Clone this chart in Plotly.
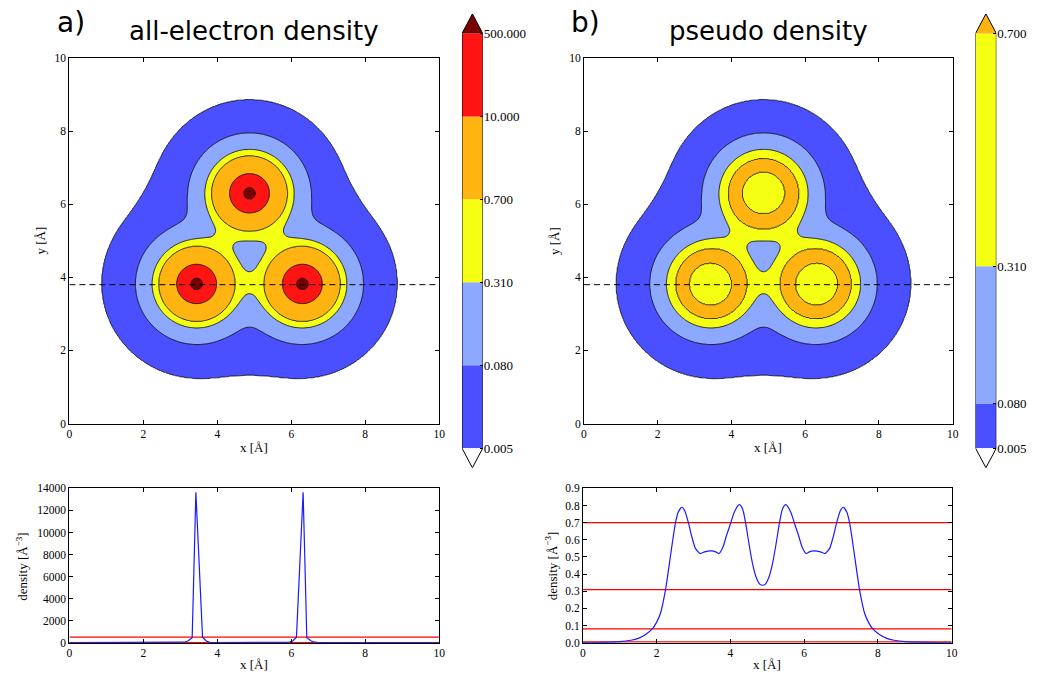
import numpy as np
import plotly.graph_objects as go

W, H = 1040, 686

# ---------------- data ----------------
atom_x = [3.44, 6.30, 4.87]          # atom positions [Å]
atom_y = [3.82, 3.82, 6.30]
cut_y = 3.8                          # dashed cut line

levels_ae = [0.005, 0.08, 0.31, 0.7, 10.0, 500.0]
labels_ae = ["0.005", "0.080", "0.310", "0.700", "10.000", "500.000"]
levels_ps = [0.005, 0.08, 0.31, 0.7]
labels_ps = ["0.005", "0.080", "0.310", "0.700"]

band_colors_ae = ["#ffffff", "#4a50ff", "#8ca8ff", "#f5ff14", "#ffb412", "#ff1414", "#780000"]
band_colors_ps = ["#ffffff", "#4a50ff", "#8ca8ff", "#f5ff14", "#ffb412"]

r_ps = [0.0, 0.1, 0.25, 0.4, 0.5, 0.57, 0.66, 0.77, 0.86, 0.96, 1.05, 1.2, 1.3, 1.43, 1.55, 1.65,
        1.8, 2.0, 2.3, 2.55, 3.0, 3.5, 4.5, 6.0, 8.0, 12.0]
f_ps = [0.525, 0.52, 0.505, 0.56, 0.645, 0.70, 0.755, 0.785, 0.765, 0.70, 0.56, 0.31, 0.232, 0.165,
        0.113, 0.08, 0.048, 0.024, 0.0102, 0.005, 0.0019, 0.0006, 0.0001, 1e-5, 1e-6, 1e-8]
r_ae = [0.0, 0.05, 0.1, 0.16, 0.25, 0.35, 0.45, 0.54, 0.65, 0.8, 0.92, 1.03, 1.12, 1.2, 1.3, 1.43,
        1.55, 1.65, 1.8, 2.0, 2.3, 2.55, 3.0, 3.5, 4.5, 6.0, 8.0, 12.0]
f_ae = [13700, 5000, 1500, 500, 150, 50, 20, 10, 5, 2, 1.1, 0.7, 0.45, 0.31, 0.232, 0.165,
        0.113, 0.08, 0.048, 0.024, 0.0102, 0.005, 0.0019, 0.0006, 0.0001, 1e-5, 1e-6, 1e-8]

# density along the cut line
x_ps_cut = [0.0, 0.5, 1.0, 1.3, 1.5, 1.7, 1.88, 2.0, 2.1, 2.24, 2.35, 2.45, 2.51, 2.58, 2.68, 2.76,
            2.86, 2.95, 3.05, 3.18, 3.3, 3.48, 3.6, 3.69, 3.8, 3.9, 4.01, 4.1, 4.24, 4.33, 4.41,
            4.5, 4.6, 4.7, 4.8, 4.87, 4.94, 5.04, 5.14, 5.24, 5.33, 5.41, 5.5, 5.64, 5.73, 5.84,
            5.94, 6.05, 6.14, 6.26, 6.44, 6.56, 6.69, 6.79, 6.88, 6.98, 7.06, 7.16, 7.23, 7.29,
            7.39, 7.5, 7.64, 7.74, 7.86, 8.04, 8.24, 8.44, 8.74, 9.24, 10.0]
d_ps_cut = [0.0003, 0.0015, 0.006, 0.014, 0.025, 0.048, 0.08, 0.12, 0.17, 0.31, 0.47, 0.62, 0.70,
            0.76, 0.79, 0.77, 0.70, 0.62, 0.55, 0.52, 0.53, 0.535, 0.53, 0.52, 0.56, 0.63, 0.70,
            0.76, 0.805, 0.78, 0.70, 0.58, 0.46, 0.38, 0.34, 0.335, 0.34, 0.38, 0.46, 0.58, 0.70,
            0.78, 0.805, 0.76, 0.70, 0.63, 0.56, 0.52, 0.53, 0.535, 0.53, 0.52, 0.55, 0.62, 0.70,
            0.77, 0.79, 0.76, 0.70, 0.62, 0.47, 0.31, 0.17, 0.12, 0.08, 0.048, 0.025, 0.014,
            0.006, 0.0015, 0.0003]
x_ae_cut = [0.0, 2.5, 2.9, 3.0, 3.1, 3.2, 3.32, 3.42, 3.6, 3.7, 3.8, 3.9, 4.87, 5.84, 5.94, 6.04,
            6.14, 6.32, 6.42, 6.54, 6.64, 6.74, 6.84, 7.2, 10.0]
d_ae_cut = [0.0003, 0.7, 3, 8, 40, 150, 450, 13650, 500, 150, 30, 6, 0.34, 6, 30, 150,
            500, 13650, 450, 150, 40, 8, 3, 0.7, 0.0003]

xy_ticks = [0, 2, 4, 6, 8, 10]
ae_ticks = [0, 2000, 4000, 6000, 8000, 10000, 12000, 14000]
ps_ticks = [0.0, 0.1, 0.2, 0.3, 0.4, 0.5, 0.6, 0.7, 0.8, 0.9]

# ---------------- field ----------------
grid = np.linspace(0, 10, 401)
GX, GY = np.meshgrid(grid, grid)


def pchip(xk, yk, x):
    """monotone cubic Hermite interpolation (smooth radial profile)"""
    xk = np.asarray(xk, float)
    yk = np.asarray(yk, float)
    h = np.diff(xk)
    d = np.diff(yk) / h
    m = np.zeros_like(yk)
    w1 = 2 * h[1:] + h[:-1]
    w2 = h[1:] + 2 * h[:-1]
    same = d[:-1] * d[1:] > 0
    with np.errstate(divide="ignore", invalid="ignore"):
        m[1:-1] = np.where(same, (w1 + w2) / (w1 / d[:-1] + w2 / d[1:]), 0.0)
    m[0] = 0.0
    m[-1] = d[-1]
    x = np.clip(x, xk[0], xk[-1])
    i = np.clip(np.searchsorted(xk, x) - 1, 0, len(xk) - 2)
    t = (x - xk[i]) / h[i]
    h00 = 2 * t**3 - 3 * t**2 + 1
    h10 = t**3 - 2 * t**2 + t
    h01 = -2 * t**3 + 3 * t**2
    h11 = t**3 - t**2
    return h00 * yk[i] + h10 * h[i] * m[i] + h01 * yk[i + 1] + h11 * h[i] * m[i + 1]


def field(r_tab, f_tab):
    Z = np.zeros_like(GX)
    for ax_, ay_ in zip(atom_x, atom_y):
        R = np.hypot(GX - ax_, GY - ay_)
        Z += np.exp(pchip(r_tab, np.log(f_tab), R))
    return Z


def to_index(Z, levels):
    kl = np.log(np.r_[1e-12, levels, 1e12])
    ki = np.arange(-1, len(levels) + 1, dtype=float)
    return np.round(np.interp(np.log(Z), kl, ki), 4)


Z_ae = to_index(field(r_ae, f_ae), levels_ae)
Z_ps = to_index(field(r_ps, f_ps), levels_ps)


def px_x(p):
    return p / W


def px_y(p):
    return 1 - p / H


SERIF = "Liberation Serif"
SANS = "DejaVu Sans"

fig = go.Figure()

for Z, lv, cols, xa, ya in [(Z_ae, levels_ae, band_colors_ae, "x", "y"),
                            (Z_ps, levels_ps, band_colors_ps, "x2", "y2")]:
    n = len(lv)
    fig.add_trace(go.Contour(
        x=grid, y=grid, z=Z, autocontour=False,
        contours=dict(start=0, end=n - 1, size=1, coloring="fill"),
        colorscale=[[i / n, c] for i, c in enumerate(cols)],
        line=dict(color="#111111", width=0.9, smoothing=1),
        showscale=False, hoverinfo="skip", xaxis=xa, yaxis=ya))
    fig.add_trace(go.Scatter(x=[0, 10], y=[cut_y, cut_y], mode="lines",
                             line=dict(color="black", width=1, dash="6px,4px"),
                             hoverinfo="skip", xaxis=xa, yaxis=ya, showlegend=False))

# lower panels
for xs, ds, lv, xa, ya in [(x_ae_cut, d_ae_cut, levels_ae, "x3", "y3"),
                           (x_ps_cut, d_ps_cut, levels_ps, "x4", "y4")]:
    for v in lv:
        fig.add_trace(go.Scatter(x=[0, 10], y=[v, v], mode="lines",
                                 line=dict(color="#ff0000", width=1.2), hoverinfo="skip",
                                 xaxis=xa, yaxis=ya, showlegend=False))
    fig.add_trace(go.Scatter(x=xs, y=ds, mode="lines",
                             line=dict(color="#1a1aff", width=1.2,
                                       shape="spline" if xa == "x4" else "linear", smoothing=0.6),
                             hoverinfo="skip", xaxis=xa, yaxis=ya, showlegend=False))

axis_common = dict(showline=True, linecolor="black", linewidth=1, mirror="allticks",
                   ticks="inside", ticklen=4, tickcolor="black", showgrid=False,
                   zeroline=False, tickfont=dict(family=SERIF, size=11.5, color="black"))

top_y = [px_y(425), px_y(53)]
bot_y = [px_y(648), px_y(491)]
left_x = [px_x(67), px_x(440)]
right_x = [px_x(586), px_x(958)]

layout = dict(
    width=W, height=H, margin=dict(l=0, r=0, t=0, b=0),
    paper_bgcolor="white", plot_bgcolor="white", showlegend=False,
    xaxis=dict(domain=left_x, range=[0, 10], tickvals=xy_ticks, anchor="y", **axis_common),
    yaxis=dict(domain=top_y, range=[0, 10], tickvals=xy_ticks, anchor="x", **axis_common),
    xaxis2=dict(domain=right_x, range=[0, 10], tickvals=xy_ticks, anchor="y2", **axis_common),
    yaxis2=dict(domain=top_y, range=[0, 10], tickvals=xy_ticks, anchor="x2", **axis_common),
    xaxis3=dict(domain=left_x, range=[0, 10], tickvals=xy_ticks, anchor="y3", **axis_common),
    yaxis3=dict(domain=bot_y, range=[0, 14000], tickvals=ae_ticks, tickformat="d", anchor="x3",
                **axis_common),
    xaxis4=dict(domain=[px_x(585), px_x(957)], range=[0, 10], tickvals=xy_ticks, anchor="y4",
                **axis_common),
    yaxis4=dict(domain=bot_y, range=[0, 0.9], tickvals=ps_ticks, tickformat=".1f", anchor="x4",
                **axis_common),
)

# colorbar axes
cb_common_y = dict(side="right", showline=False, showgrid=False, zeroline=False,
                   ticks="inside", ticklen=3, tickcolor="black",
                   tickfont=dict(family=SERIF, size=13, color="black"))
tri_ae = 0.237
layout["xaxis5"] = dict(domain=[px_x(463), px_x(484)], range=[0, 1], visible=False, anchor="y5")
layout["yaxis5"] = dict(domain=[px_y(470), px_y(8)], range=[-tri_ae, len(levels_ae) - 1 + tri_ae],
                        tickvals=list(range(len(levels_ae))), ticktext=labels_ae, anchor="x5",
                        **cb_common_y)
tri_ps = 0.0329
layout["xaxis6"] = dict(domain=[px_x(981), px_x(1002)], range=[0, 1], visible=False, anchor="y6")
layout["yaxis6"] = dict(domain=[px_y(470), px_y(8)],
                        range=[levels_ps[0] - tri_ps, levels_ps[-1] + tri_ps],
                        tickvals=levels_ps, ticktext=labels_ps, anchor="x6", **cb_common_y)
fig.update_layout(**layout)

# invisible traces so colorbar axes render
fig.add_trace(go.Scatter(x=[0.5], y=[0], mode="markers", marker=dict(opacity=0),
                         xaxis="x5", yaxis="y5", hoverinfo="skip"))
fig.add_trace(go.Scatter(x=[0.5], y=[levels_ps[0]], mode="markers", marker=dict(opacity=0),
                         xaxis="x6", yaxis="y6", hoverinfo="skip"))

shapes = []


def colorbar_shapes(ypos, cols, tri, xr, yr):
    n = len(ypos)
    for i in range(n - 1):
        shapes.append(dict(type="rect", xref=xr, yref=yr, x0=0, x1=1, y0=ypos[i], y1=ypos[i + 1],
                           fillcolor=cols[i + 1], line=dict(width=0), layer="below"))
    top, bot = ypos[-1], ypos[0]
    shapes.append(dict(type="path", xref=xr, yref=yr,
                       path=f"M 0,{top} L 1,{top} L 0.5,{top + tri} Z",
                       fillcolor=cols[-1], line=dict(width=0), layer="below"))
    shapes.append(dict(type="path", xref=xr, yref=yr,
                       path=f"M 0,{bot} L 1,{bot} L 0.5,{bot - tri} Z",
                       fillcolor=cols[0], line=dict(width=0), layer="below"))
    shapes.append(dict(type="path", xref=xr, yref=yr,
                       path=(f"M 0.5,{bot - tri} L 1,{bot} L 1,{top} L 0.5,{top + tri} "
                             f"L 0,{top} L 0,{bot} Z"),
                       fillcolor="rgba(0,0,0,0)", line=dict(color="black", width=1)))


colorbar_shapes(list(range(len(levels_ae))), band_colors_ae, tri_ae, "x5", "y5")
colorbar_shapes(levels_ps, band_colors_ps, tri_ps, "x6", "y6")
fig.update_layout(shapes=shapes)

ann = []


def text(x, y, s, size, family=SERIF, angle=0, xanchor="center"):
    ann.append(dict(x=px_x(x), y=px_y(y), xref="paper", yref="paper", text=s, showarrow=False,
                    xanchor=xanchor, yanchor="middle", textangle=angle,
                    font=dict(family=family, size=size, color="black")))


text(52, 17, "a)", 28, SANS, xanchor="left")
text(253, 25, "all-electron density", 26, SANS)
text(571, 17, "b)", 28, SANS, xanchor="left")
text(772, 25, "pseudo density", 26, SANS)
text(253, 449, "x [Å]", 13)
text(772, 449, "x [Å]", 13)
text(38, 239, "y [Å]", 13, angle=-90)
text(557, 239, "y [Å]", 13, angle=-90)
text(253, 670, "x [Å]", 13)
text(771, 670, "x [Å]", 13)
text(19, 570, "density [Å<sup>−3</sup>]", 13, angle=-90)
text(553, 570, "density [Å<sup>−3</sup>]", 13, angle=-90)
fig.update_layout(annotations=ann)

fig.write_html("out.html")
